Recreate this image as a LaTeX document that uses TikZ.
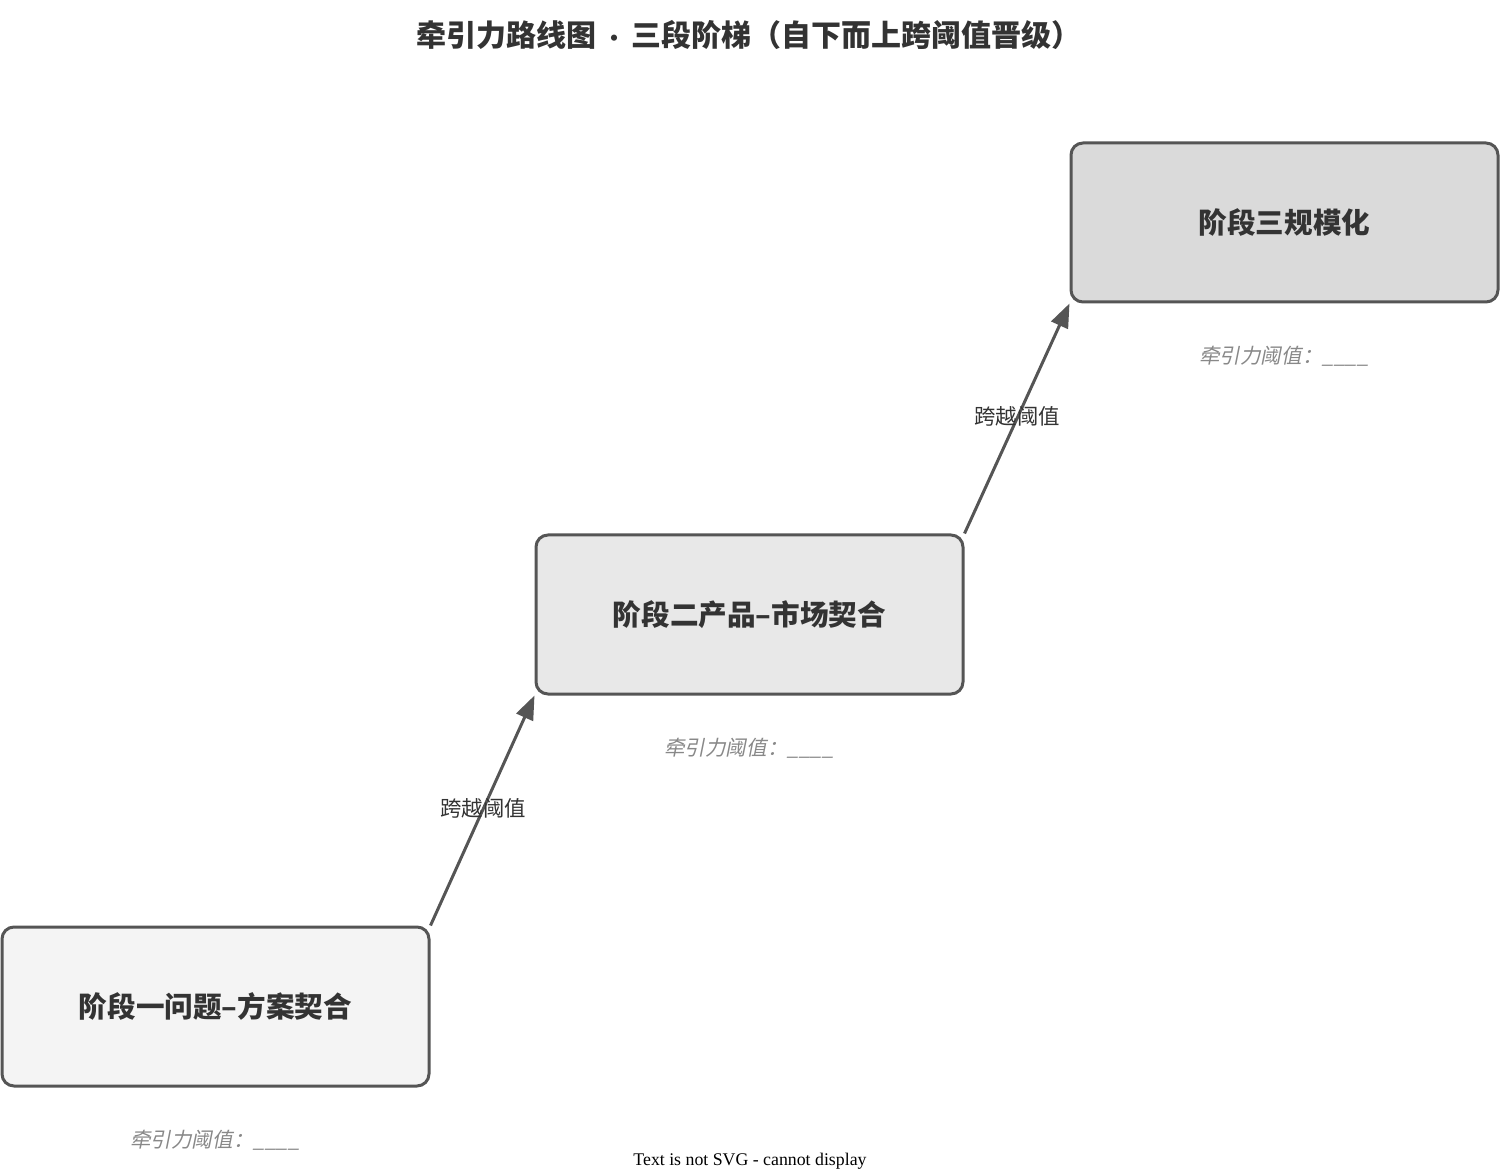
\documentclass[tikz,border=0pt]{standalone}
\usepackage{fontspec}
\setmainfont{Noto Sans CJK SC}
\newfontfamily\cjkit[FakeSlant=0.2]{Noto Sans CJK SC}
\newfontfamily\serifen{Liberation Serif}
\usetikzlibrary{arrows.meta}
\definecolor{ink}{HTML}{333333}
\definecolor{edge}{HTML}{555555}
\definecolor{note}{HTML}{888888}
\begin{document}
\begin{tikzpicture}[x=0.5pt,y=-0.5pt,
  stage/.style={draw=edge, line width=1.5pt, rounded corners=6pt,
    minimum width=213.5pt, minimum height=79.5pt, inner sep=0pt,
    text=ink, font=\bfseries\fontsize{14.3pt}{17pt}\selectfont},
  thresh/.style={text=note, font=\cjkit\fontsize{10.3pt}{12pt}\selectfont, inner sep=0pt},
  link/.style={draw=edge, line width=1.5pt, -{Triangle[length=12pt,width=9pt]}},
  linklabel/.style={text=ink, font=\fontsize{10.7pt}{12pt}\selectfont, inner sep=0pt}]
\useasboundingbox (0,0) rectangle (1500,1176);
\node[text=ink, font=\bfseries\fontsize{15pt}{17pt}\selectfont] (title) at (749,35) {牵引力路线图 {\fontsize{11pt}{12pt}\selectfont·} 三段阶梯（自下而上跨阈值晋级）};
\node[stage, fill={rgb,255:red,244;green,244;blue,244}] (s1) at (215.5,1006.5) {阶段一问题–方案契合};
\node[stage, fill={rgb,255:red,232;green,232;blue,232}] (s2) at (749.5,614.5) {阶段二产品–市场契合};
\node[stage, fill={rgb,255:red,218;green,218;blue,218}] (s3) at (1284.5,222.5) {阶段三规模化};
\node[thresh] (t1) at (215,1140) {牵引力阈值：\_\_\_\_};
\node[thresh] (t2) at (749,748) {牵引力阈值：\_\_\_\_};
\node[thresh] (t3) at (1284,356) {牵引力阈值：\_\_\_\_};
\draw[link] (s1.north east) -- (s2.south west);
\draw[link] (s2.north east) -- (s3.south west);
\node[linklabel] (l1) at (483,808) {跨越阈值};
\node[linklabel] (l2) at (1017,416) {跨越阈值};
\node[text=black, font=\serifen\fontsize{8.9pt}{10pt}\selectfont, inner sep=0pt] (foot) at (750,1161) {Text is not SVG - cannot display};
\end{tikzpicture}
\end{document}
